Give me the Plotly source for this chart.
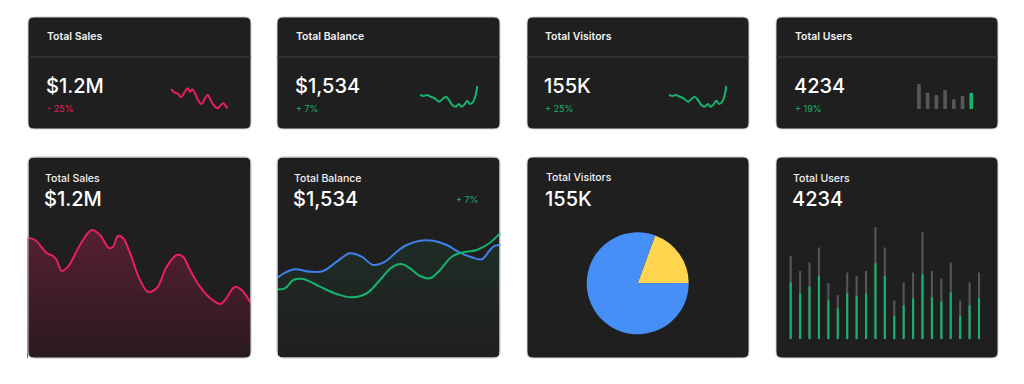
import plotly.graph_objects as go

W, H = 1024, 384
FONT = "Inter"

# ---------------- data ----------------
kpi_titles = ["Total Sales", "Total Balance", "Total Visitors", "Total Users"]
kpi_values = ["$1.2M", "$1,534", "155K", "4234"]
kpi_changes = ["- 25%", "+ 7%", "+ 25%", "+ 19%"]

sales_spark_t = [3, 7, 10.3, 13, 16.3, 19.7, 22, 24.3, 27, 30.3, 33.7, 37, 39.7, 43, 46.3, 49.7, 52, 55.3, 57.7, 59.7]
sales_spark_v = [22.7, 19.3, 18, 14.7, 19.3, 23.7, 20.3, 22.7, 18.7, 11.3, 8, 13.7, 17, 11.3, 6, 3.7, 6, 8.7, 6, 3.7]

balance_spark_t = [3, 7, 9.7, 13.7, 17.7, 22, 25.3, 28.7, 32, 35.3, 38.7, 42, 44.3, 47, 50.3, 53, 56.3, 58.7, 60.3]
balance_spark_v = [17, 16, 17, 15.3, 13.7, 10.3, 12.7, 15.3, 12, 7, 5.3, 8, 5.3, 7, 11.3, 8, 10.3, 17, 26]

visitors_spark_t = [3, 7, 9.7, 13.7, 17.7, 22, 25.3, 28.7, 32, 35.3, 38.7, 42, 44.3, 47, 50.3, 53, 56.3, 58.7, 60.3]
visitors_spark_v = [17, 16, 17, 15.3, 13.7, 10.3, 12.7, 15.3, 12, 7, 5.3, 8, 5.3, 7, 11.3, 8, 10.3, 17, 26]

users_mini = [25, 16.3, 14, 19, 9.7, 13, 16.3]

sales_t = [0.3, 8, 19.7, 26, 29.7, 34.7, 41, 53, 64.7, 73, 82, 86, 91, 96, 103, 113, 121, 129.7,
           139.7, 149.7, 156, 163, 173, 183, 193, 198, 208, 214.7, 223.7]
sales_v = [120.3, 118, 105, 102, 98, 87, 91.3, 113, 128, 123, 110, 111.3, 122, 120, 105, 78, 66.3, 70,
           91.3, 103, 101.3, 88, 71.3, 60, 54, 58, 71.3, 68, 55]

balance_blue_t = [0.3, 8, 18, 33, 46.3, 59.7, 73, 84.7, 96.3, 108, 119.7, 129.7, 143, 156.3, 169.7,
                  183, 194.7, 204.7, 213, 218, 223.7]
balance_blue_v = [80.3, 85.3, 88.7, 86.3, 87, 96.3, 104.7, 101.3, 93, 96.3, 106.3, 113, 117.3, 117.3,
                  113, 105.3, 100.7, 98.7, 108, 112.3, 113]
balance_green_t = [0.3, 8, 16.3, 26.3, 43, 59.7, 74.7, 89.7, 103, 114.7, 124.7, 133, 143, 153, 163,
                   174.7, 184.7, 199.7, 213, 223.7]
balance_green_v = [68.7, 69.7, 78, 79, 71.3, 64, 60.7, 64.7, 78, 90.7, 94, 89.7, 82, 79.7, 88,
                   101.3, 105.3, 108, 115.3, 125.3]

visitors_labels = ["Returning", "New"]
visitors_split = [30, 125]

users_total = [83.3, 68.3, 76.7, 91.7, 56, 44, 66.7, 63.3, 68.3, 112, 91.7, 38.7, 56.7, 66.7, 107,
               68.3, 60.7, 76.7, 38.7, 56.7, 66.7]
users_active = [56.7, 46, 52.7, 63.3, 38.7, 30.7, 46, 43.3, 46, 76, 63.3, 23.3, 34, 40.7, 65,
                41.7, 37.7, 46.7, 23.3, 34, 40.7]

# ---------------- colours ----------------
CARD = "#1f1f1f"
BORDER = "#d4d4d4"
RED = "#ea1f5b"
GREEN = "#17b26b"
BLUE = "#3f80ea"
PIE_BLUE = "#458ff6"
YELLOW = "#ffd54f"
GREY_BAR = "#575757"


def px(x):
    return x / W


def py(y):
    return 1 - y / H


def rrect_path(x0, y0, x1, y1, r):
    pts = [
        ("M", x0 + r, y0), ("L", x1 - r, y0), ("Q", x1, y0, x1, y0 + r), ("L", x1, y1 - r),
        ("Q", x1, y1, x1 - r, y1), ("L", x0 + r, y1), ("Q", x0, y1, x0, y1 - r),
        ("L", x0, y0 + r), ("Q", x0, y0, x0 + r, y0),
    ]
    s = ""
    for p in pts:
        cmd = p[0]
        coords = p[1:]
        s += cmd + " " + " ".join(
            f"{px(coords[i]):.5f},{py(coords[i + 1]):.5f}" for i in range(0, len(coords), 2)) + " "
    return s + "Z"


def corner_mask(xc, yc, dx, dy, r):
    # white region outside a rounded corner at (xc, yc)
    a = (xc, yc + dy * r)
    b = (xc + dx * r, yc)
    return (f"M {px(a[0]):.5f},{py(a[1]):.5f} Q {px(xc):.5f},{py(yc):.5f} {px(b[0]):.5f},{py(b[1]):.5f} "
            f"L {px(xc):.5f},{py(yc):.5f} Z")


fig = go.Figure()
layout = dict(
    width=W, height=H, margin=dict(l=0, r=0, t=0, b=0),
    paper_bgcolor="white", plot_bgcolor="rgba(0,0,0,0)",
    showlegend=False, barmode="overlay", font=dict(family=FONT, color="white"),
    shapes=[], annotations=[],
)


def add_axes(i, x0, x1, y0, y1, xr, yr):
    xa = "xaxis" if i == 1 else f"xaxis{i}"
    ya = "yaxis" if i == 1 else f"yaxis{i}"
    common = dict(visible=False, showgrid=False, zeroline=False, fixedrange=True)
    layout[xa] = dict(domain=[px(x0), px(x1)], range=xr, anchor="y" if i == 1 else f"y{i}", **common)
    layout[ya] = dict(domain=[py(y1), py(y0)], range=yr, anchor="x" if i == 1 else f"x{i}", **common)
    return ("x" if i == 1 else f"x{i}"), ("y" if i == 1 else f"y{i}")


top_cards = [(28, 17, 251, 129), (277, 17, 500, 129), (527, 17, 749, 129), (776, 17, 998, 129)]
bot_cards = [(28, 157, 251, 358), (277, 157, 500, 358), (527, 157, 749, 358), (776, 157, 998, 358)]

for (x0, y0, x1, y1) in top_cards + bot_cards:
    layout["shapes"].append(dict(type="path", path=rrect_path(x0, y0, x1, y1, 6), xref="paper", yref="paper",
                                 fillcolor=CARD, line=dict(color=BORDER, width=1), layer="below"))
for (x0, y0, x1, y1) in top_cards:
    layout["shapes"].append(dict(type="line", x0=px(x0), x1=px(x1), y0=py(57), y1=py(57), xref="paper",
                                 yref="paper", line=dict(color="#3c3c3c", width=1), layer="below"))

# ---------------- top KPI cards ----------------
text_x = [45, 294, 543, 792.5]
change_cols = [RED, GREEN, GREEN, GREEN]
for k in range(4):
    layout["annotations"] += [
        dict(x=px(text_x[k]), y=py(37), xref="paper", yref="paper", xanchor="left", yanchor="middle",
             text=kpi_titles[k], showarrow=False, font=dict(size=10.5, color="#f2f2f2", weight=600)),
        dict(x=px(text_x[k] - 1), y=py(86), xref="paper", yref="paper", xanchor="left", yanchor="middle",
             text=kpi_values[k], showarrow=False, font=dict(size=20, color="white", weight=500)),
        dict(x=px(text_x[k]), y=py(108), xref="paper", yref="paper", xanchor="left", yanchor="middle",
             text=kpi_changes[k], showarrow=False, font=dict(size=9, color=change_cols[k])),
    ]

xa, ya = add_axes(1, 168, 231, 84, 112, [0, 63], [0, 28])
fig.add_trace(go.Scatter(x=sales_spark_t, y=sales_spark_v, mode="lines", xaxis=xa, yaxis=ya,
                         line=dict(color=RED, width=2, shape="spline"), hoverinfo="skip"))
xa, ya = add_axes(2, 417, 480, 84, 112, [0, 63], [0, 28])
fig.add_trace(go.Scatter(x=balance_spark_t, y=balance_spark_v, mode="lines", xaxis=xa, yaxis=ya,
                         line=dict(color=GREEN, width=2, shape="spline"), hoverinfo="skip"))
xa, ya = add_axes(3, 666, 729, 84, 112, [0, 63], [0, 28])
fig.add_trace(go.Scatter(x=visitors_spark_t, y=visitors_spark_v, mode="lines", xaxis=xa, yaxis=ya,
                         line=dict(color=GREEN, width=2, shape="spline"), hoverinfo="skip"))
xa, ya = add_axes(4, 914.6, 975.6, 80, 109, [-0.5, 6.5], [0, 29])
mini_cols = [GREY_BAR] * (len(users_mini) - 1) + [GREEN]
fig.add_trace(go.Bar(x=list(range(len(users_mini))), y=users_mini, xaxis=xa, yaxis=ya, width=0.42,
                     marker=dict(color=mini_cols, cornerradius=2, line=dict(width=0)), hoverinfo="skip"))

# ---------------- bottom cards ----------------
bt_x = [43, 292, 543.5, 790.5]
bt_y = [179, 179, 177, 179]
for k in range(4):
    layout["annotations"] += [
        dict(x=px(bt_x[k]), y=py(bt_y[k]), xref="paper", yref="paper", xanchor="left", yanchor="middle",
             text=kpi_titles[k], showarrow=False, font=dict(size=10.5, color="#f2f2f2", weight=500)),
        dict(x=px(bt_x[k] - 1), y=py(199), xref="paper", yref="paper", xanchor="left", yanchor="middle",
             text=kpi_values[k], showarrow=False, font=dict(size=20, color="white", weight=500)),
    ]
layout["annotations"].append(
    dict(x=px(467), y=py(199), xref="paper", yref="paper", xanchor="center", yanchor="middle",
         text=kpi_changes[1], showarrow=False, font=dict(size=9, color=GREEN)))

# Sales area
xa, ya = add_axes(5, 27, 251, 157, 358, [0, 224], [0, 201])
fig.add_trace(go.Scatter(x=sales_t, y=sales_v, mode="lines", xaxis=xa, yaxis=ya, fill="tozeroy",
                         fillgradient=dict(type="vertical", start=0, stop=130,
                                           colorscale=[[0, "#2b1a20"], [1, "#561f34"]]),
                         line=dict(color=RED, width=2, shape="spline"), hoverinfo="skip"))

# Balance lines
xa, ya = add_axes(6, 277, 501, 157, 358, [0, 224], [0, 201])
fig.add_trace(go.Scatter(x=balance_blue_t, y=balance_blue_v, mode="lines", xaxis=xa, yaxis=ya, fill="tozeroy",
                         fillgradient=dict(type="vertical", start=0, stop=118,
                                           colorscale=[[0, "rgba(23,178,107,0.0)"], [1, "rgba(23,178,107,0.09)"]]),
                         line=dict(color=BLUE, width=2, shape="spline"), hoverinfo="skip"))
fig.add_trace(go.Scatter(x=balance_green_t, y=balance_green_v, mode="lines", xaxis=xa, yaxis=ya,
                         line=dict(color=GREEN, width=2, shape="spline"), hoverinfo="skip"))

# Visitors pie
fig.add_trace(go.Pie(labels=visitors_labels, values=visitors_split, sort=False, direction="clockwise",
                     rotation=20, textinfo="none", hoverinfo="skip",
                     marker=dict(colors=[YELLOW, PIE_BLUE], line=dict(width=0)),
                     domain=dict(x=[px(586.7), px(688.7)], y=[py(334.3), py(232.3)])))

# Users bars
xa, ya = add_axes(8, 786, 983.7, 157, 339.3, [-0.5, 20.5], [0, 182.3])
idx = list(range(len(users_total)))
fig.add_trace(go.Bar(x=idx, y=users_total, xaxis=xa, yaxis=ya, width=0.22,
                     marker=dict(color=GREY_BAR, line=dict(width=0)), hoverinfo="skip"))
fig.add_trace(go.Bar(x=idx, y=users_active, xaxis=xa, yaxis=ya, width=0.22,
                     marker=dict(color=GREEN, line=dict(width=0)), hoverinfo="skip"))

# rounded corner masks + outlines above the area fills
for (x0, y0, x1, y1) in bot_cards[:2]:
    r = 6
    layout["shapes"].append(dict(type="path", path=corner_mask(x0, y1, 1, -1, r), xref="paper", yref="paper",
                                 fillcolor="white", line=dict(width=0), layer="above"))
    layout["shapes"].append(dict(type="path", path=corner_mask(x1, y1, -1, -1, r), xref="paper", yref="paper",
                                 fillcolor="white", line=dict(width=0), layer="above"))
    layout["shapes"].append(dict(type="path", path=rrect_path(x0, y0, x1, y1, r), xref="paper", yref="paper",
                                 fillcolor="rgba(0,0,0,0)", line=dict(color=BORDER, width=1), layer="above"))

fig.update_layout(**layout)
fig.write_html("out.html", config={"displayModeBar": False, "staticPlot": True},
               post_script="document.body.style.margin='0';")
